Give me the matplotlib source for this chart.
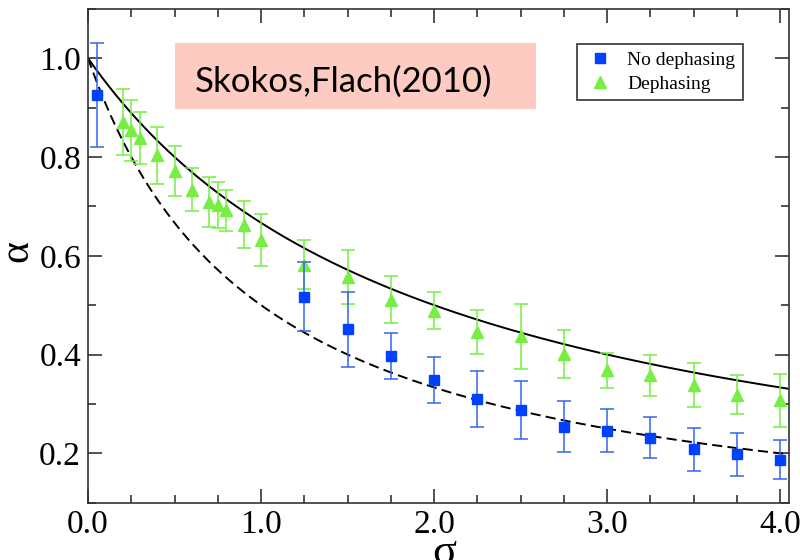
import numpy as np
import matplotlib
matplotlib.use("Agg")
import matplotlib.pyplot as plt
from matplotlib.patches import Rectangle
from matplotlib.ticker import MultipleLocator, FixedLocator

# ======================
# data
# ======================
sigma_nd = [0.05, 1.25, 1.5, 1.75, 2.0, 2.25, 2.5, 2.75, 3.0, 3.25, 3.5, 3.75, 4.0]
alpha_nd = [0.926, 0.517, 0.451, 0.397, 0.348, 0.310, 0.288, 0.254, 0.246, 0.232, 0.208, 0.198, 0.187]
err_nd = [0.105, 0.070, 0.076, 0.047, 0.046, 0.056, 0.058, 0.051, 0.044, 0.042, 0.043, 0.043, 0.040]

sigma_d = [0.2, 0.25, 0.3, 0.4, 0.5, 0.6, 0.7, 0.75, 0.8, 0.9, 1.0, 1.25, 1.5, 1.75,
           2.0, 2.25, 2.5, 2.75, 3.0, 3.25, 3.5, 3.75, 4.0]
alpha_d = [0.871, 0.854, 0.839, 0.803, 0.771, 0.734, 0.709, 0.703, 0.692, 0.663, 0.632,
           0.582, 0.557, 0.511, 0.489, 0.446, 0.437, 0.401, 0.368, 0.358, 0.338, 0.319, 0.307]
err_d = [0.067, 0.062, 0.053, 0.058, 0.051, 0.044, 0.050, 0.046, 0.041, 0.048, 0.053,
         0.050, 0.055, 0.048, 0.037, 0.045, 0.066, 0.049, 0.035, 0.042, 0.044, 0.040, 0.053]

# theory curves alpha = 1 / (1 + sigma / c)
c_nd = 1.0
c_d = 2.0

x_ticks = [0.0, 1.0, 2.0, 3.0, 4.0]
x_ticklabels = ["0.0", "1.0", "2.0", "3.0", "4.0"]
y_ticks = [0.2, 0.4, 0.6, 0.8, 1.0]
y_ticklabels = ["0.2", "0.4", "0.6", "0.8", "1.0"]

blue = "#0040ff"
blue_bar = "#3366f0"
green = "#77ee44"

serif = ["Liberation Serif", "DejaVu Serif"]

# ======================
# figure
# ======================
fig = plt.figure(figsize=(8, 5.6), dpi=100)
ax = fig.add_axes([0.11, 0.1023, 0.876, 0.882])

s = np.linspace(0, 4.05, 300)
ax.plot(s, 1 / (1 + s / c_d), color="black", lw=1.4, zorder=2)
ax.plot(s, 1 / (1 + s / c_nd), color="black", lw=1.4, dashes=(5.2, 2.7), zorder=2)

h_d = ax.errorbar(sigma_d, alpha_d, yerr=err_d, fmt="^", color=green, ms=8.4,
                  ecolor=green, elinewidth=1.1, capsize=4.8, capthick=1.1,
                  zorder=3, label="Dephasing")
h_nd = ax.errorbar(sigma_nd, alpha_nd, yerr=err_nd, fmt="s", color=blue, ms=6.7,
                   ecolor=blue_bar, elinewidth=1.1, capsize=4.8, capthick=1.1,
                   zorder=4, label="No dephasing")

ax.set_xlim(0, 4.05)
ax.set_ylim(0.1, 1.1)

ax.xaxis.set_major_locator(FixedLocator(x_ticks))
ax.set_xticklabels(x_ticklabels)
ax.xaxis.set_minor_locator(MultipleLocator(0.25))
ax.yaxis.set_major_locator(FixedLocator(y_ticks))
ax.set_yticklabels(y_ticklabels)
ax.yaxis.set_minor_locator(MultipleLocator(0.1))

ax.tick_params(which="both", direction="in", top=True, right=True,
               width=1.1, color="#222222")
ax.tick_params(which="major", length=10, labelsize=24, pad=5)
ax.tick_params(which="minor", length=5.5)
for lab in ax.get_xticklabels() + ax.get_yticklabels():
    lab.set_family(serif)

for sp in ax.spines.values():
    sp.set_linewidth(1.2)
    sp.set_color("#333333")

ax.set_ylabel("α", fontsize=30, family=serif)
ax.yaxis.set_label_coords(-0.074, 0.51)
ax.set_xlabel("σ", fontsize=32, family=serif)
ax.xaxis.set_label_coords(0.508, -0.062)

leg = ax.legend([h_nd[0], h_d[0]], ["No dephasing", "Dephasing"],
                loc="upper right", bbox_to_anchor=(0.935, 0.929), borderaxespad=0,
                fancybox=False, frameon=True, edgecolor="black",
                prop={"family": serif, "size": 14}, handlelength=1.6,
                handletextpad=0.6, borderpad=0.4, labelspacing=0.3)
leg.get_frame().set_linewidth(1.2)

# ======================
# reference box
# ======================
fig.patches.append(Rectangle((0.219, 0.805), 0.451, 0.118, transform=fig.transFigure,
                             facecolor="#fdcbc2", edgecolor="none", zorder=5))
fig.text(0.244, 0.836, "Skokos,Flach(2010)", fontsize=25, family="Lato",
         ha="left", va="baseline", color="black", zorder=6)

fig.savefig("out.png", dpi=100)
